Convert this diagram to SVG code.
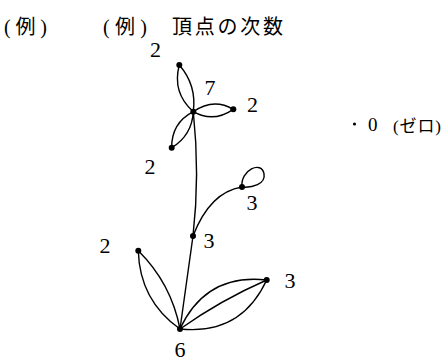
<svg xmlns="http://www.w3.org/2000/svg" width="444" height="362" viewBox="0 0 444 362">
<style>
.t{font-family:'Liberation Serif','DejaVu Serif','Noto Sans CJK JP',serif;fill:#000}
.h{font-size:20px}
.n{font-size:22px;text-anchor:middle}
.e{fill:none;stroke:#000;stroke-width:1.4}
.v{fill:#000}
</style>
<rect width="444" height="362" fill="#fff"/>
<g id="title">
<text class="t h" x="4" y="34" textLength="43" lengthAdjust="spacing">(例)</text>
<text class="t h" x="103" y="34" textLength="44" lengthAdjust="spacing">(例)</text>
<text class="t h" x="172" y="34" textLength="111" lengthAdjust="spacing">頂点の次数</text>
</g>
<g id="connectors">
<path class="e" d="M179.3,65 Q171.9,92.7 193.3,111.7"/>
<path class="e" d="M179.3,65 Q196.8,85.2 193.3,111.7"/>
<path class="e" d="M193.3,111.7 Q213.3,97.5 233.3,109.3"/>
<path class="e" d="M193.3,111.7 Q213.3,123 233.3,109.3"/>
<path class="e" d="M171.7,147.7 Q171.4,123 193.3,111.7"/>
<path class="e" d="M171.7,147.7 Q191.9,135.4 193.3,111.7"/>
<path class="e" d="M193.3,111.7 Q200,175 193,236"/>
<path class="e" d="M193,236 Q210,192 242,187"/>
<path class="e" d="M242,187 C240,170 262,160 264,174 C266,184 252,188 242,187"/>
<path class="e" d="M193,236 L180,329"/>
<path class="e" d="M138.3,250.7 Q139.6,300.4 180,329"/>
<path class="e" d="M138.3,250.7 Q171.3,283.4 180,329"/>
<path class="e" d="M180,329 Q205.8,273.1 266.7,280"/>
<path class="e" d="M180,329 Q221,300 266.7,280"/>
<path class="e" d="M180,329 Q240.9,335.4 266.7,280"/>
</g>
<g id="n-top"><circle class="v" cx="179.3" cy="65" r="3"/><text class="t n" x="155.5" y="57">2</text></g>
<g id="n-center"><circle class="v" cx="193.3" cy="111.7" r="3"/><text class="t n" x="210" y="95">7</text></g>
<g id="n-right"><circle class="v" cx="233.3" cy="109.3" r="3"/><text class="t n" x="252.5" y="112">2</text></g>
<g id="n-lowerleft"><circle class="v" cx="171.7" cy="147.7" r="3"/><text class="t n" x="150" y="174">2</text></g>
<g id="n-loop"><circle class="v" cx="242" cy="187" r="3"/><text class="t n" x="252" y="210">3</text></g>
<g id="n-mid"><circle class="v" cx="193" cy="236" r="3"/><text class="t n" x="209" y="248">3</text></g>
<g id="n-left"><circle class="v" cx="138.3" cy="250.7" r="3"/><text class="t n" x="105" y="253">2</text></g>
<g id="n-rightleaf"><circle class="v" cx="266.7" cy="280" r="3"/><text class="t n" x="290" y="288">3</text></g>
<g id="n-bottom"><circle class="v" cx="180" cy="329" r="3"/><text class="t n" x="180" y="357">6</text></g>
<g id="n-zero">
<circle class="v" cx="354.5" cy="124" r="1.6"/>
<text class="t" style="font-size:19px" x="368" y="131">0</text>
<text class="t" style="font-size:17px" x="393" y="132" textLength="48" lengthAdjust="spacing">(ゼロ)</text>
</g>
</svg>
